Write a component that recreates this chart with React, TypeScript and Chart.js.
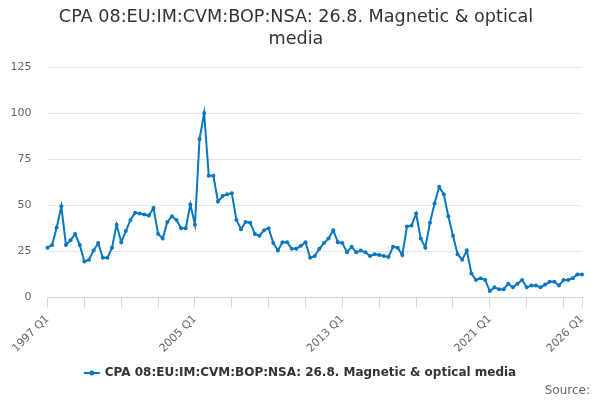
import React, { useEffect, useRef } from "react";
import { Chart, registerables, ChartConfiguration, Plugin } from "chart.js";

Chart.register(...registerables);

const FONT = "'DejaVu Sans', sans-serif";
const LINE_COLOR = "#0a77c0";

const titleLines = ["CPA 08:EU:IM:CVM:BOP:NSA: 26.8. Magnetic & optical", "media"];
const seriesName = "CPA 08:EU:IM:CVM:BOP:NSA: 26.8. Magnetic & optical media";
const sourceText = "Source:";

// quarterly categories, 1997 Q1 .. 2026 Q1
const years: number[] = [];
for (let y = 1997; y <= 2026; y++) years.push(y);
const quarters: string[] = years
  .flatMap((y) => [1, 2, 3, 4].map((q) => `${y} Q${q}`))
  .slice(0, 117);

const values: number[] = [
  27, 28.5, 38, 49.5, 28.5, 31, 34.5, 28.5, 19.5, 20.5,
  25.5, 29.5, 21.5, 21.5, 27, 39.5, 30, 36, 42, 46,
  45.5, 45, 44.5, 48.5, 34.5, 32, 41, 44, 42, 37.5,
  37.5, 50.5, 39.5, 86, 100, 66, 66, 52, 55, 56,
  56.5, 42, 37, 41, 40.5, 34.5, 33.5, 36.5, 37.5, 29.5,
  25.5, 30, 30, 26.5, 26.5, 28, 30, 21.5, 22.5, 26.5,
  29.5, 32, 36.5, 30, 29.5, 24.5, 27.5, 24.5, 25.5, 24.5,
  22.5, 23.5, 23, 22.5, 22, 27.5, 27, 23, 38.5, 39,
  45.5, 32, 27, 40.5, 51, 60, 56, 44, 33.5, 23.5,
  20.5, 25.5, 13, 9.5, 10.5, 9.5, 3.5, 5.5, 4.5, 4.5,
  7.5, 5.5, 7.5, 9.5, 5.5, 6.5, 6.5, 5.5, 7, 8.5,
  8.5, 6.5, 9.5, 9.5, 10.5, 12.5, 12.5,
];

const TICK_EVERY = 8; // tick mark every 2 years
const LABEL_EVERY = 32; // label every 8 years
const last = quarters.length - 1;

// legend + source line drawn under the axis
const bottomText: Plugin<"line"> = {
  id: "bottomText",
  afterDraw(chart) {
    const ctx = chart.ctx;
    ctx.save();
    ctx.font = `bold 12px ${FONT}`;
    const tw = ctx.measureText(seriesName).width;
    const symW = 16;
    const gap = 5;
    const x0 = (chart.width - (symW + gap + tw)) / 2;
    const y = 373;
    ctx.strokeStyle = LINE_COLOR;
    ctx.lineWidth = 2;
    ctx.beginPath();
    ctx.moveTo(x0, y);
    ctx.lineTo(x0 + symW, y);
    ctx.stroke();
    ctx.fillStyle = LINE_COLOR;
    ctx.beginPath();
    ctx.arc(x0 + symW / 2, y, 2.5, 0, Math.PI * 2);
    ctx.fill();
    ctx.fillStyle = "#333333";
    ctx.textBaseline = "middle";
    ctx.textAlign = "left";
    ctx.fillText(seriesName, x0 + symW + gap, y);

    ctx.font = `12px ${FONT}`;
    ctx.fillStyle = "#666666";
    ctx.textAlign = "right";
    ctx.fillText(sourceText, 590, 391);
    ctx.restore();
  },
};

const LineChart = () => {
  const chartRef = useRef<HTMLCanvasElement | null>(null);
  const chartInstanceRef = useRef<Chart<"line", number[], string> | null>(null);

  useEffect(() => {
    const ctx = chartRef.current?.getContext("2d");
    if (chartInstanceRef.current) {
      chartInstanceRef.current.destroy();
    }
    if (ctx) {
      const config: ChartConfiguration<"line", number[], string> = {
        type: "line",
        data: {
          labels: quarters,
          datasets: [
            {
              label: seriesName,
              data: values,
              borderColor: LINE_COLOR,
              backgroundColor: LINE_COLOR,
              borderWidth: 2,
              pointRadius: 2,
              pointBorderWidth: 0,
              tension: 0,
            },
          ],
        },
        options: {
          animation: false,
          responsive: true,
          maintainAspectRatio: false,
          layout: { padding: { left: 10, right: 18, top: 0, bottom: 40.5 } },
          plugins: {
            legend: { display: false },
            tooltip: { enabled: false },
            title: {
              display: true,
              text: titleLines,
              color: "#333333",
              font: { family: FONT, size: 17.6, weight: "normal", lineHeight: 1.25 },
              padding: { top: 6, bottom: 17 },
            },
          },
          scales: {
            x: {
              type: "category",
              offset: false,
              grid: {
                drawOnChartArea: false,
                drawTicks: true,
                tickLength: 10,
                lineWidth: 1,
                color: (c) =>
                  c.index % TICK_EVERY === 0 || c.index === last ? "#ccd6eb" : "rgba(0,0,0,0)",
              },
              border: { display: true, color: "#ccd6eb" },
              ticks: {
                autoSkip: false,
                minRotation: 45,
                maxRotation: 45,
                padding: 5,
                color: "#666666",
                font: { family: FONT, size: 11 },
                callback: (_v, i) => (i % LABEL_EVERY === 0 || i === last ? quarters[i] : ""),
              },
              afterFit: (s) => {
                s.height = 62;
              },
            },
            y: {
              min: 0,
              max: 125,
              ticks: {
                stepSize: 25,
                padding: 16,
                color: "#666666",
                font: { family: FONT, size: 11 },
              },
              grid: { color: "#e6e6e6", drawTicks: false },
              border: { display: false },
              afterFit: (s) => {
                s.width = 37.5;
              },
            },
          },
        },
        plugins: [bottomText],
      };
      chartInstanceRef.current = new Chart(ctx, config);
    }
    return () => {
      if (chartInstanceRef.current) {
        chartInstanceRef.current.destroy();
        chartInstanceRef.current = null;
      }
    };
  }, []);

  return <canvas ref={chartRef} />;
};

export default function App() {
  return (
    <div style={{ position: "fixed", left: 0, top: 0, width: 600, height: 400, background: "#fff" }}>
      <LineChart />
    </div>
  );
}
